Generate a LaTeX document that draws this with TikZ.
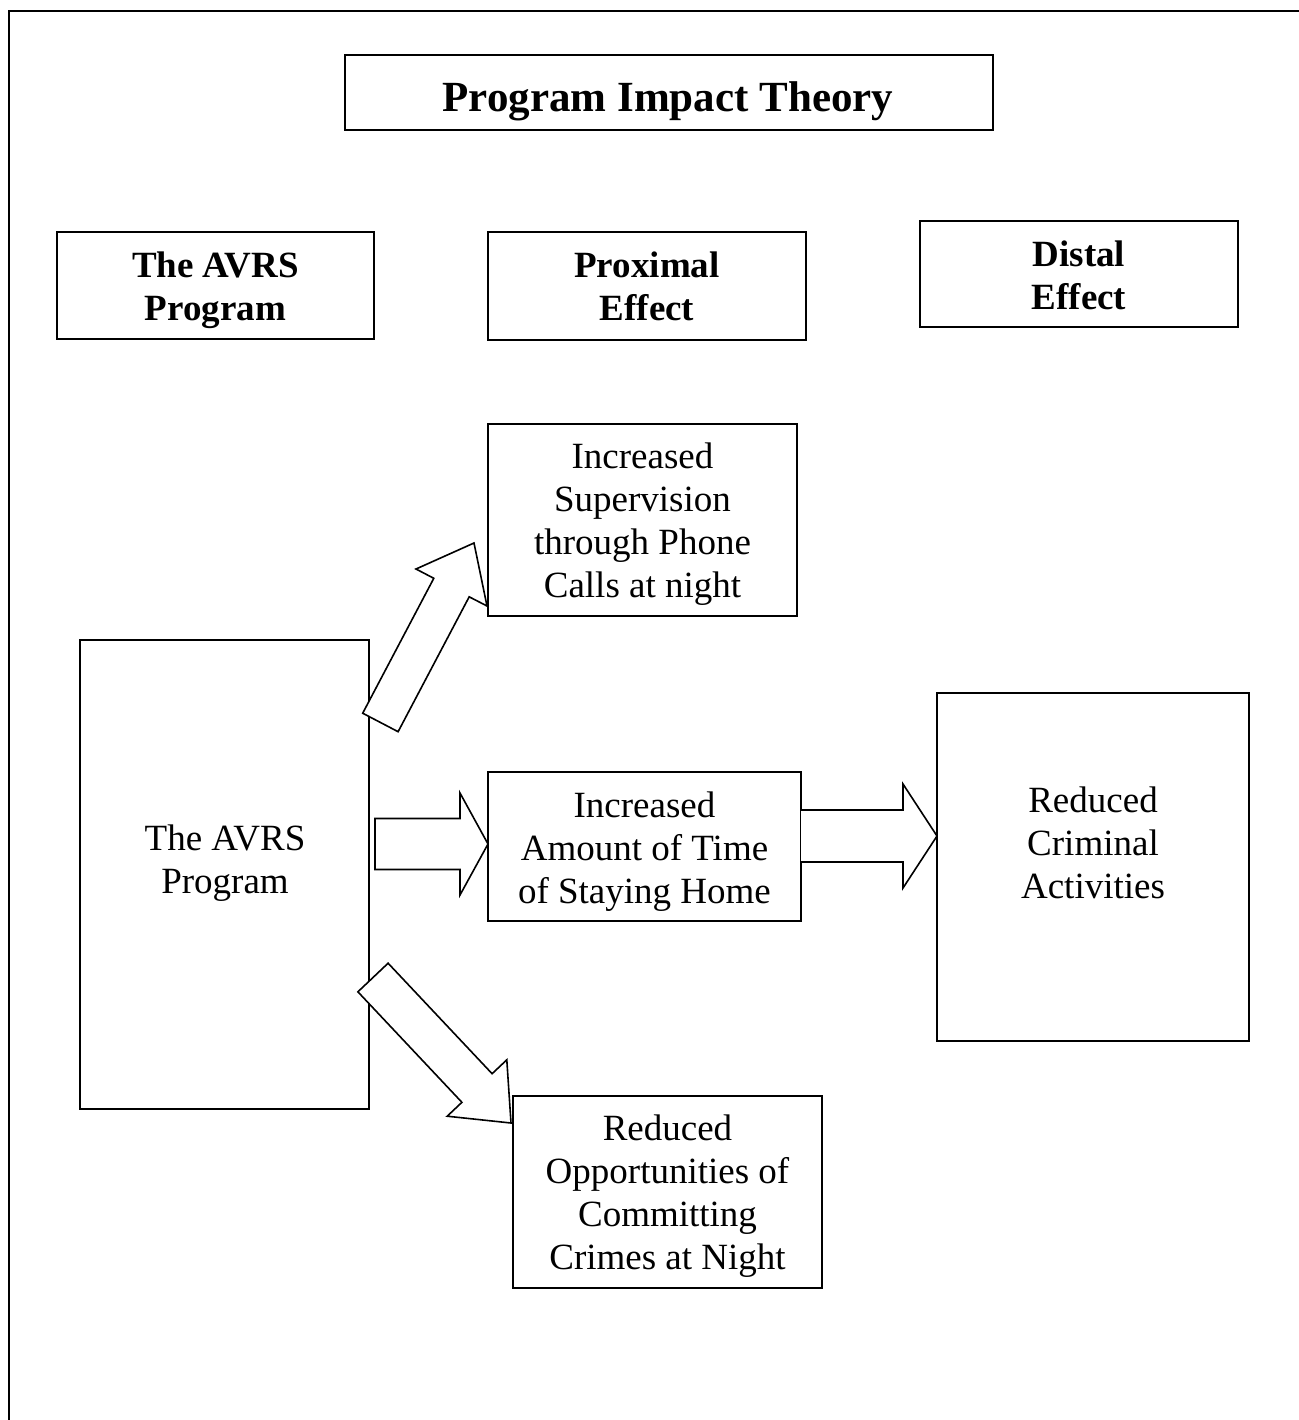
\documentclass[tikz,border=0pt]{standalone}
\usepackage{fontspec}
\setmainfont{Liberation Serif}
\begin{document}
\begin{tikzpicture}[x=0.5pt,y=-0.5pt,
  box/.style={draw, line width=1pt, inner sep=0pt},
  txt/.style={inner sep=0pt, align=center, font=\fontsize{18.5}{21.5}\selectfont},
  htxt/.style={txt, font=\fontsize{18.5}{21.5}\selectfont\bfseries},
  blockarrow/.style={draw, fill=white, line width=0.8pt, line join=miter}]
\useasboundingbox (0,0) rectangle (1299,1420);
% outer frame (left and top edges visible)
\draw[line width=1pt] (8.5,1420) -- (8.5,10.5) -- (1299,10.5);
% title
\node[box, minimum width=324pt, minimum height=37.5pt] (title) at (669,92.5) {};
\node[txt, font=\fontsize{21.5}{24}\selectfont\bfseries] (titletxt) at (668,101.5) {Program Impact Theory};
% headers
\node[box, minimum width=158.5pt, minimum height=53.5pt] (h1) at (215.5,285.5) {};
\node[htxt] (h1txt) at (215.5,290.5) {The AVRS\\Program};
\node[box, minimum width=159pt, minimum height=54pt] (h2) at (647,286) {};
\node[htxt] (h2txt) at (647,286) {Proximal\\Effect};
\node[box, minimum width=159pt, minimum height=53pt] (h3) at (1079,274) {};
\node[htxt] (h3txt) at (1079,275) {Distal\\Effect};
% content boxes
\node[box, minimum width=154.5pt, minimum height=96pt] (sup) at (642.5,520) {};
\node[txt] (suptxt) at (642.5,524) {Increased\\Supervision\\through Phone\\Calls at night};
\node[box, minimum width=144.5pt, minimum height=234.5pt] (avrs) at (224.5,874.5) {};
\node[txt] (avrstxt) at (225,863) {The AVRS\\Program};
\node[box, minimum width=156.5pt, minimum height=74.5pt] (mid) at (644.5,846.5) {};
\node[txt] (midtxt) at (644.5,851.5) {Increased\\Amount of Time\\of Staying Home};
\node[box, minimum width=156pt, minimum height=174pt] (crim) at (1093,867) {};
\node[txt] (crimtxt) at (1093,843) {Reduced\\Criminal\\Activities};
\node[box, minimum width=154.5pt, minimum height=96pt] (opp) at (667.5,1192) {};
\node[txt] (opptxt) at (667.5,1196) {Reduced\\Opportunities of\\Committing\\Crimes at Night};
% block arrows
\coordinate (t1) at (474,543);
\coordinate (t2) at (488,844);
\coordinate (t3) at (937,836);
\coordinate (t4) at (511,1123);
\draw[blockarrow] (362.7,713.2) -- (433.8,578.3) -- (416,569) -- (t1)
  -- (487,606) -- (469.2,596.8) -- (398.1,731.7) -- cycle;
\draw[blockarrow] (375,818.5) -- (460,818.5) -- (460,793) -- (t2)
  -- (460,895) -- (460,869.5) -- (375,869.5) -- cycle;
\draw[blockarrow] (801,810) -- (903,810) -- (903,784) -- (t3)
  -- (903,888) -- (903,862) -- (801,862);
\draw[blockarrow] (357.9,991.8) -- (388.1,963.2) -- (492.1,1073.7) -- (506.8,1059.8)
  -- (t4) -- (447.2,1116.2) -- (461.9,1102.3) -- cycle;
\end{tikzpicture}
\end{document}
